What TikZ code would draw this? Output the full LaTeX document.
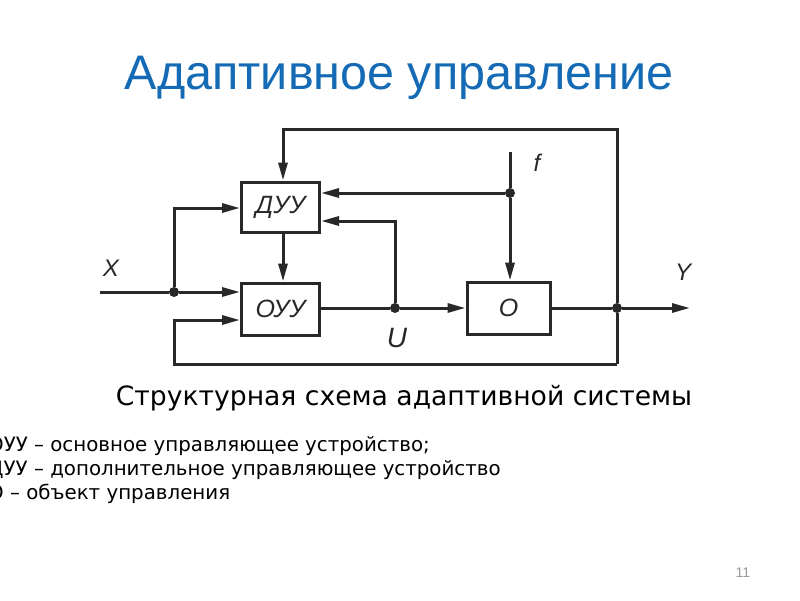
\documentclass[tikz,border=0pt]{standalone}
\usepackage{fontspec}
\setmainfont{DejaVu Sans}
\newfontfamily\titlefont{Liberation Sans}
\newfontfamily\diagfont{Liberation Sans}
\usetikzlibrary{arrows.meta}
\definecolor{titleblue}{RGB}{20,106,180}
\definecolor{ink}{RGB}{40,40,40}
\begin{document}
\begin{tikzpicture}[x=1pt,y=-1pt,
  wire/.style={draw=ink,line width=3pt},
  arr/.style={wire,-{Triangle[length=18pt,width=9pt]}},
  blockbox/.style={draw=ink,line width=3pt,fill=white,inner sep=0pt,
     font=\diagfont\itshape\fontsize{25}{25}\selectfont,text=ink},
  dot/.style={circle,fill=ink,inner sep=0pt,minimum size=10pt},
  lab/.style={font=\diagfont\itshape\fontsize{24}{24}\selectfont,text=ink,inner sep=0pt},
  legend/.style={anchor=base west,inner sep=0pt,font=\fontsize{19.8}{19.8}\selectfont}]
\useasboundingbox (0,0) rectangle (800,600);
\clip (0,0) rectangle (800,600);
% title
\node[text=titleblue,font=\titlefont\fontsize{48.5}{48.5}\selectfont] (title) at (399,78) {Адаптивное управление};
% blocks
\node[blockbox,minimum width=78pt,minimum height=50pt] (duu) at (280.5,207) {ДУУ};
\node[blockbox,minimum width=78pt,minimum height=52pt] (ouu) at (280.5,309) {ОУУ};
\node[blockbox,minimum width=83pt,minimum height=52pt] (obj) at (508.5,308) {О};
% coordinates
\coordinate (xin) at (100,292);
\node[dot] (jx) at (174,292) {};
\node[dot] (ju) at (395,308) {};
\node[dot] (jf) at (510,193) {};
\node[dot] (jy) at (617,308) {};
\coordinate (fin) at (510,152);
\coordinate (yout) at (690,308);
\coordinate (tl) at (283,129);
\coordinate (tr) at (617,129);
\coordinate (br) at (617,364);
\coordinate (bl) at (174,364);
% wires
\draw[wire] (xin) -- (jx);
\draw[arr] (jx) -- (jx -| ouu.west);
\draw[arr] (jx) -- (174,208) -- (duu.west |- 0,208);
\draw[arr] (br) -- (bl) -- (174,320) -- (ouu.west |- 0,320);
\draw[arr] (jy) -- (tr) -- (tl) -- (duu.north -| tl);
\draw[arr] (duu.south -| tl) -- (ouu.north -| tl);
\draw[wire] (ouu.east |- ju) -- (ju);
\draw[arr] (ju) -- (ju -| obj.west);
\draw[arr] (ju) -- (395,221) -- (duu.east |- 0,221);
\draw[wire] (fin) -- (jf);
\draw[arr] (jf) -- (jf |- obj.north);
\draw[arr] (jf) -- (jf -| duu.east);
\draw[wire] (obj.east |- jy) -- (jy);
\draw[arr] (jy) -- (yout);
\draw[wire] (jy) -- (br);
% labels
\node[lab] (lx) at (111,268) {X};
\node[lab] (lf) at (537,163) {f};
\node[lab] (ly) at (683,272) {Y};
\node[lab,font=\diagfont\itshape\fontsize{28}{28}\selectfont] (lu) at (397,338) {U};
% caption
\node[font=\fontsize{26.6}{26.6}\selectfont,text=black] (cap) at (404,398) {Структурная схема адаптивной системы};
% legend
\node[legend] (l1) at (-12,451) {ОУУ – основное управляющее устройство;};
\node[legend] (l2) at (-12,475) {ДУУ – дополнительное управляющее устройство};
\node[legend] (l3) at (-12,499) {О – объект управления};
% page number
\node[text=gray!80,font=\titlefont\fontsize{14}{14}\selectfont] (pg) at (743,573) {11};
\end{tikzpicture}
\end{document}
